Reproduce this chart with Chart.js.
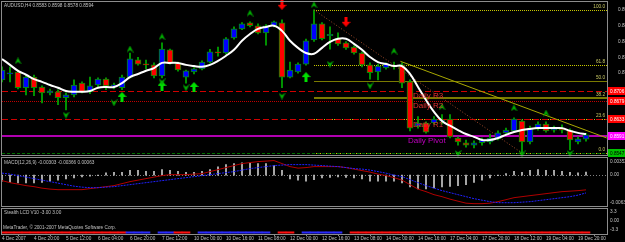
<!DOCTYPE html>
<html>
<head>
<meta charset="utf-8">
<script src="https://cdn.jsdelivr.net/npm/chart.js@4.4.1/dist/chart.umd.min.js"></script>
<style>
  html, body { margin: 0; padding: 0; background: #000; }
  #wrap { position: relative; width: 625px; height: 242px; background: #000; overflow: hidden; }
  #wrap canvas { position: absolute; left: 0; }
</style>
</head>
<body>
<div id="wrap">
  <canvas id="mainChart" width="625" height="157" style="top:0"></canvas>
  <canvas id="macdChart" width="625" height="52" style="top:156px"></canvas>
  <canvas id="lcdChart" width="625" height="35" style="top:207px"></canvas>
</div>
<script>
// AUDUSD H4 - price, MACD and Stealth LCD panels

const symbol = "AUDUSD,H4"
const tickLabels = ["4 Dec 2007", "4 Dec 20:00", "5 Dec 12:00", "6 Dec 04:00", "6 Dec 20:00", "7 Dec 12:00",
  "10 Dec 00:00", "10 Dec 16:00", "11 Dec 08:00", "12 Dec 00:00", "12 Dec 16:00", "13 Dec 08:00",
  "14 Dec 00:00", "14 Dec 16:00", "17 Dec 04:00", "17 Dec 20:00", "18 Dec 12:00", "19 Dec 04:00", "19 Dec 20:00"]
const barsPerTick = 4

const opens = [
  0.8733, 0.8748, 0.8753, 0.8713, 0.8740, 0.8715, 0.8700, 0.8703, 0.8688, 0.8695,
  0.8725, 0.8703, 0.8720, 0.8735, 0.8718, 0.8713, 0.8740, 0.8784, 0.8773, 0.8771,
  0.8743, 0.8809, 0.8776, 0.8740, 0.8753, 0.8761, 0.8778, 0.8804, 0.8801, 0.8839,
  0.8862, 0.8877, 0.8870, 0.8852, 0.8870, 0.8877, 0.8740, 0.8753, 0.8773, 0.8834,
  0.8875, 0.8845, 0.8839, 0.8827, 0.8816, 0.8801, 0.8771, 0.8753, 0.8763, 0.8768,
  0.8771, 0.8728, 0.8616, 0.8624, 0.8624, 0.8629, 0.8634, 0.8586, 0.8574, 0.8568,
  0.8574, 0.8576, 0.8584, 0.8599, 0.8604, 0.8629, 0.8576, 0.8611, 0.8621, 0.8606,
  0.8609, 0.8606, 0.8576, 0.8583]
const highs = [
  0.8766, 0.8766, 0.8758, 0.8743, 0.8745, 0.8718, 0.8710, 0.8708, 0.8700, 0.8733,
  0.8728, 0.8740, 0.8738, 0.8738, 0.8725, 0.8745, 0.8801, 0.8790, 0.8783, 0.8776,
  0.8827, 0.8811, 0.8778, 0.8758, 0.8764, 0.8781, 0.8810, 0.8816, 0.8840, 0.8867,
  0.8878, 0.8880, 0.8875, 0.8873, 0.8882, 0.8885, 0.8778, 0.8776, 0.8836, 0.8910,
  0.8878, 0.8867, 0.8852, 0.8830, 0.8819, 0.8804, 0.8776, 0.8773, 0.8776, 0.8778,
  0.8776, 0.8733, 0.8640, 0.8627, 0.8640, 0.8645, 0.8645, 0.8589, 0.8581, 0.8579,
  0.8586, 0.8596, 0.8604, 0.8611, 0.8637, 0.8632, 0.8616, 0.8627, 0.8627, 0.8616,
  0.8619, 0.8609, 0.8589, 0.8598]
const lows = [
  0.8728, 0.8728, 0.8710, 0.8695, 0.8693, 0.8675, 0.8695, 0.8670, 0.8657, 0.8690,
  0.8700, 0.8698, 0.8715, 0.8708, 0.8710, 0.8708, 0.8738, 0.8770, 0.8761, 0.8738,
  0.8738, 0.8773, 0.8755, 0.8725, 0.8748, 0.8758, 0.8775, 0.8793, 0.8798, 0.8836,
  0.8860, 0.8867, 0.8849, 0.8821, 0.8867, 0.8713, 0.8738, 0.8750, 0.8770, 0.8830,
  0.8834, 0.8811, 0.8820, 0.8810, 0.8798, 0.8766, 0.8735, 0.8733, 0.8760, 0.8760,
  0.8713, 0.8604, 0.8611, 0.8598, 0.8621, 0.8621, 0.8586, 0.8568, 0.8563, 0.8561,
  0.8568, 0.8571, 0.8581, 0.8596, 0.8601, 0.8548, 0.8571, 0.8606, 0.8601, 0.8601,
  0.8599, 0.8556, 0.8571, 0.8578]
const closes = [
  0.8758, 0.8750, 0.8713, 0.8740, 0.8713, 0.8700, 0.8705, 0.8688, 0.8695, 0.8720,
  0.8703, 0.8718, 0.8735, 0.8718, 0.8720, 0.8740, 0.8786, 0.8773, 0.8771, 0.8743,
  0.8811, 0.8776, 0.8758, 0.8756, 0.8761, 0.8778, 0.8804, 0.8801, 0.8837, 0.8862,
  0.8875, 0.8870, 0.8852, 0.8870, 0.8880, 0.8740, 0.8758, 0.8773, 0.8832, 0.8875,
  0.8837, 0.8848, 0.8824, 0.8814, 0.8801, 0.8771, 0.8751, 0.8768, 0.8773, 0.8766,
  0.8725, 0.8611, 0.8624, 0.8601, 0.8634, 0.8631, 0.8589, 0.8576, 0.8568, 0.8574,
  0.8581, 0.8586, 0.8599, 0.8606, 0.8634, 0.8576, 0.8611, 0.8621, 0.8604, 0.8611,
  0.8606, 0.8581, 0.8584, 0.8594]
const maValues = [
  0.8786, 0.8771, 0.8756, 0.8746, 0.8735, 0.8728, 0.8720, 0.8713, 0.8705, 0.8703,
  0.8703, 0.8705, 0.8713, 0.8715, 0.8715, 0.8725, 0.8740, 0.8748, 0.8756, 0.8763,
  0.8776, 0.8776, 0.8776, 0.8771, 0.8768, 0.8766, 0.8771, 0.8781, 0.8794, 0.8809,
  0.8832, 0.8849, 0.8862, 0.8867, 0.8870, 0.8857, 0.8832, 0.8814, 0.8801, 0.8799,
  0.8814, 0.8829, 0.8837, 0.8837, 0.8824, 0.8809, 0.8791, 0.8778, 0.8773, 0.8768,
  0.8768, 0.8748, 0.8715, 0.8682, 0.8652, 0.8629, 0.8617, 0.8606, 0.8596, 0.8589,
  0.8581, 0.8581, 0.8586, 0.8594, 0.8601, 0.8606, 0.8609, 0.8611, 0.8611, 0.8611,
  0.8611, 0.8604, 0.8599, 0.8596]

const priceTicks = [0.8910, 0.8870, 0.8830, 0.8790, 0.8750]
const pivotNames = ["Daily R3", "Daily R2", "Daily R1", "Daily Pivot"]
const pivotLevels = [0.8706, 0.8679, 0.8633, 0.8591]
const supportLevel = 0.8547
const pivotTextBar = 51

const fibHigh = 0.8910, fibHighBar = 39
const fibLow = 0.8548, fibLowBar = 65
const fibLevels = [100, 61.8, 50, 38.2, 23.6, 0]
const trendBars = [49.8, 75.6]
const trendPrices = [0.8780, 0.8586]

const fracUpBars = [2, 16, 20, 31, 39, 49, 55, 64, 68]
const fracUpPrices = [0.8781, 0.8811, 0.8842, 0.8902, 0.8923, 0.8806, 0.8665, 0.8662, 0.8649]
const fracDownBars = [8, 14, 20, 23, 35, 41, 46, 57, 65, 71]
const fracDownPrices = [0.8644, 0.8675, 0.8728, 0.8713, 0.8692, 0.8773, 0.8718, 0.8547, 0.8546, 0.8547]
const arrowUpBars = [15, 20, 24, 38]
const arrowUpPrices = [0.8690, 0.8718, 0.8715, 0.8740]
const arrowDownBars = [35, 43]
const arrowDownPrices = [0.8923, 0.8880]

const macdMain = [
  -0.00113, -0.00155, -0.00185, -0.00216, -0.00237, -0.00268, -0.00288, -0.00299, -0.00299, -0.00299,
  -0.00299, -0.00278, -0.00258, -0.00237, -0.00216, -0.00175, -0.00134, -0.00103, -0.00072, -0.00041,
  -0.00010, 0.00010, 0.00010, 0.00010, 0.00021, 0.00031, 0.00072, 0.00113, 0.00155, 0.00196,
  0.00237, 0.00258, 0.00278, 0.00288, 0.00299, 0.00237, 0.00175, 0.00144, 0.00155, 0.00175,
  0.00175, 0.00175, 0.00175, 0.00155, 0.00124, 0.00093, 0.00062, 0.00021, -0.00010, -0.00052,
  -0.00103, -0.00196, -0.00288, -0.00340, -0.00402, -0.00443, -0.00494, -0.00536, -0.00577, -0.00587,
  -0.00587, -0.00577, -0.00546, -0.00505, -0.00464, -0.00443, -0.00422, -0.00402, -0.00381, -0.00360,
  -0.00340, -0.00330, -0.00319, -0.00303]
const macdSignal = [
  0.00041, 0.00021, -0.00010, -0.00041, -0.00072, -0.00103, -0.00134, -0.00165, -0.00196, -0.00227,
  -0.00247, -0.00258, -0.00258, -0.00247, -0.00237, -0.00216, -0.00196, -0.00175, -0.00155, -0.00134,
  -0.00113, -0.00093, -0.00072, -0.00052, -0.00031, -0.00010, 0.00010, 0.00031, 0.00052, 0.00072,
  0.00103, 0.00134, 0.00155, 0.00175, 0.00196, 0.00206, 0.00216, 0.00216, 0.00216, 0.00206,
  0.00196, 0.00185, 0.00175, 0.00155, 0.00134, 0.00124, 0.00103, 0.00072, 0.00041, 0.00000,
  -0.00031, -0.00093, -0.00155, -0.00216, -0.00268, -0.00319, -0.00360, -0.00402, -0.00443, -0.00484,
  -0.00515, -0.00546, -0.00567, -0.00567, -0.00567, -0.00556, -0.00546, -0.00525, -0.00505, -0.00484,
  -0.00464, -0.00443, -0.00412, -0.00366]
const macdHist = [
  -0.00127, -0.00148, -0.00161, -0.00161, -0.00161, -0.00148, -0.00127, -0.00106, -0.00079, -0.00058,
  -0.00038, -0.00020, -0.00010, 0.00045, 0.00058, 0.00058, 0.00100, 0.00100, 0.00079, 0.00079,
  0.00113, 0.00100, 0.00079, 0.00058, 0.00058, 0.00079, 0.00113, 0.00168, 0.00216, 0.00237,
  0.00251, 0.00251, 0.00237, 0.00237, 0.00196, 0.00100, -0.00079, -0.00106, -0.00127, -0.00093,
  -0.00058, -0.00045, -0.00038, -0.00045, -0.00058, -0.00079, -0.00127, -0.00127, -0.00127, -0.00127,
  -0.00161, -0.00244, -0.00285, -0.00285, -0.00264, -0.00244, -0.00230, -0.00216, -0.00196, -0.00148,
  -0.00106, -0.00058, -0.00010, 0.00031, 0.00079, 0.00058, 0.00100, 0.00113, 0.00100, 0.00100,
  0.00079, 0.00058, 0.00045, 0.00063]
const macdTop = 0.00352, macdBottom = -0.00635

// Stealth LCD: 1 = blue, -1 = red, 0 = nothing
const lcdState = [
  -1, -1, -1, -1, -1, -1, -1, -1, -1, -1, -1, -1, -1, -1, -1, -1,
  1, 1, 1, 0, 1, 1, -1, -1, 0,
  1, 1, 1, 1, 1, 1, 1, 1, 1, 0, -1, -1, 0,
  1, 1, 1, 1, 1, 0,
  -1, -1, -1, -1, -1, -1, -1, -1, -1, -1, -1, -1, -1, -1, -1,
  -1, -1, -1, -1, -1, -1, -1, -1, -1, -1, -1, -1, -1, -1, -1]
const lcdBand = [-3.9, -4.4]
const lcdTicks = [3.3, 0, -3.3]

// ---------- styles ----------
Chart.defaults.animation = false
const FONT_FAMILY = "'Liberation Sans', Arial, sans-serif"
const SMALL_PX = 4.7
const SMALL = { family: FONT_FAMILY, size: SMALL_PX }
const SMALL_CSS = SMALL_PX + "px " + FONT_FAMILY
const TEXT_GRAY = "#c0c0c0"
const FRAME = "#8c8c8c"
const AXIS_W = 18
const X_MIN = 0, X_MAX = 75.625

const last = closes.length - 1
const xAxisHidden = { type: "linear", min: X_MIN, max: X_MAX, display: false, offset: false }
const pts = (xs, ys) => xs.map((x, k) => ({ x: x, y: ys[k] }))

// keep the plot area exactly where the layout puts it (no room for tick labels)
function fitRight(s) {
  s.width = AXIS_W
  s.paddingTop = 0
  s.paddingBottom = 0
}

function makeMarker(kind) {
  const c = document.createElement("canvas")
  const g = c.getContext("2d")
  g.beginPath()
  if (kind === "fracUp" || kind === "fracDown") {
    c.width = 7
    c.height = 7
    g.fillStyle = "#00b000"
    if (kind === "fracUp") {
      g.moveTo(3.5, 0); g.lineTo(7, 7); g.lineTo(3.5, 4.5); g.lineTo(0, 7)
    } else {
      g.moveTo(3.5, 7); g.lineTo(7, 0); g.lineTo(3.5, 2.5); g.lineTo(0, 0)
    }
  } else {
    c.width = 9
    c.height = 10
    g.fillStyle = kind === "arrowUp" ? "#00e000" : "#ff0000"
    if (kind === "arrowUp") {
      g.moveTo(4.5, 0); g.lineTo(9, 5); g.lineTo(6, 5); g.lineTo(6, 10); g.lineTo(3, 10); g.lineTo(3, 5); g.lineTo(0, 5)
    } else {
      g.moveTo(4.5, 10); g.lineTo(9, 5); g.lineTo(6, 5); g.lineTo(6, 0); g.lineTo(3, 0); g.lineTo(3, 5); g.lineTo(0, 5)
    }
  }
  g.closePath()
  g.fill()
  return c
}

function markerSet(xs, ys, kind) {
  return {
    type: "line", data: pts(xs, ys), showLine: false, pointStyle: makeMarker(kind),
    pointRadius: 4, clip: 6, order: 1
  }
}

const frame = {
  id: "frame",
  afterDraw(chart) {
    const { ctx, chartArea: a } = chart
    ctx.save()
    ctx.strokeStyle = FRAME
    ctx.lineWidth = 1
    ctx.strokeRect(a.left - 0.5, a.top - 0.5, a.right - a.left + 1, a.bottom - a.top + 1)
    ctx.restore()
  }
}

function hLine(chart, value, fromBar, color, width, dash) {
  const { ctx, chartArea: a, scales: { x, y } } = chart
  let py = y.getPixelForValue(value)
  py = width % 2 ? Math.round(py) + 0.5 : Math.round(py)
  const px = fromBar === null ? a.left : x.getPixelForValue(fromBar)
  ctx.save()
  ctx.strokeStyle = color
  ctx.lineWidth = width
  ctx.setLineDash(dash)
  ctx.beginPath()
  ctx.moveTo(px, py)
  ctx.lineTo(a.right, py)
  ctx.stroke()
  ctx.restore()
}

const fibPrice = (lv) => fibLow + (fibHigh - fibLow) * lv / 100

const mainDecor = {
  id: "mainDecor",
  beforeDatasetsDraw(chart) {
    fibLevels.forEach((lv) => {
      if (lv === 50) hLine(chart, fibPrice(lv), fibHighBar, "#7a7a00", 1, [])
      else if (lv === 38.2) hLine(chart, fibPrice(lv), fibHighBar, "#7a7a00", 2, [])
      else hLine(chart, fibPrice(lv), fibHighBar, "#c8c800", 1, [1, 1])
    })
    hLine(chart, pivotLevels[0], null, "#d00000", 1, [6, 3])
    hLine(chart, pivotLevels[1], null, "#c00000", 1, [1, 1])
    hLine(chart, pivotLevels[2], null, "#d00000", 1, [6, 3])
    hLine(chart, closes[last], null, "#808080", 1, [])
    hLine(chart, pivotLevels[3], null, "#b000b0", 2, [])
    hLine(chart, supportLevel, null, "#007000", 1, [3, 2])
  },
  afterDraw(chart) {
    const { ctx, chartArea: a, scales: { x, y } } = chart
    ctx.save()
    // title
    ctx.font = SMALL_CSS
    ctx.fillStyle = TEXT_GRAY
    ctx.textBaseline = "top"
    ctx.textAlign = "left"
    const ohlc = [opens[last], highs[last], lows[last], closes[last]].map((v) => v.toFixed(4)).join(" ")
    ctx.fillText(symbol + " " + ohlc, 4, 3)

    // fibonacci labels
    ctx.fillStyle = "#c8c864"
    ctx.textAlign = "right"
    ctx.textBaseline = "bottom"
    fibLevels.forEach((lv) => {
      ctx.fillText(lv.toFixed(1), a.right - 2, y.getPixelForValue(fibPrice(lv)) - 1)
    })

    // pivot names
    ctx.font = "8px " + FONT_FAMILY
    ctx.textAlign = "left"
    ctx.textBaseline = "top"
    pivotNames.forEach((name, k) => {
      ctx.fillStyle = k === 3 ? "#c000c0" : "#e03030"
      const px = x.getPixelForValue(pivotTextBar) + (k === 3 ? -2 : 3)
      ctx.fillText(name, px, y.getPixelForValue(pivotLevels[k]) + 1)
    })

    // price boxes on the right axis
    ctx.font = SMALL_CSS
    ctx.textBaseline = "middle"
    const box = (value, bg, fg) => {
      const py = Math.round(y.getPixelForValue(value))
      ctx.fillStyle = bg
      ctx.fillRect(a.right + 1, py - 4, AXIS_W - 1, 8)
      ctx.fillStyle = fg
      ctx.fillText(value.toFixed(4), a.right + 3, py + 0.5)
    }
    box(pivotLevels[0], "#ff0000", "#ffffff")
    box(pivotLevels[1], "#ff0000", "#ffffff")
    box(pivotLevels[2], "#ff0000", "#ffffff")
    box(pivotLevels[3], "#ff00ff", "#ffffff")
    box(supportLevel, "#00c000", "#000000")
    ctx.restore()
  }
}

// ---------- main price chart ----------
const bodyColors = closes.map((c, i) => (c >= opens[i] ? "#0000ff" : "#ff0000"))
const barIdx = closes.map((c, i) => i)

new Chart(document.getElementById("mainChart"), {
  type: "bar",
  data: {
    datasets: [
      {
        label: "wick", data: barIdx.map((i) => ({ x: i, y: [lows[i], highs[i]] })),
        backgroundColor: "#00b000", barThickness: 1, grouped: false, order: 6
      },
      {
        label: "body", data: barIdx.map((i) => ({ x: i, y: [opens[i], closes[i]] })),
        backgroundColor: bodyColors, borderColor: "#009000", borderWidth: 1, borderSkipped: false,
        barThickness: 6, minBarLength: 1, grouped: false, order: 5
      },
      {
        type: "line", label: "trend", data: pts(trendBars, trendPrices),
        borderColor: "#a8a800", borderWidth: 1, pointRadius: 0, order: 4
      },
      {
        type: "line", label: "fib", data: pts([fibHighBar, fibLowBar], [fibHigh, fibLow]),
        borderColor: "#a04a2a", borderWidth: 1, borderDash: [1, 2], pointRadius: 0, order: 4
      },
      {
        type: "line", label: "MA", data: pts(barIdx, maValues),
        borderColor: "#ffffff", borderWidth: 2, pointRadius: 0, tension: 0.4, order: 3
      },
      markerSet(fracUpBars, fracUpPrices, "fracUp"),
      markerSet(fracDownBars, fracDownPrices, "fracDown"),
      markerSet(arrowUpBars, arrowUpPrices, "arrowUp"),
      markerSet(arrowDownBars, arrowDownPrices, "arrowDown")
    ]
  },
  options: {
    responsive: false,
    layout: { autoPadding: false, padding: { left: 2, top: 2, right: 0, bottom: 2 } },
    plugins: { legend: { display: false }, tooltip: { enabled: false } },
    scales: {
      x: xAxisHidden,
      y: {
        position: "right", min: 0.8543, max: 0.8930,
        grid: { display: false },
        border: { display: true, color: FRAME },
        afterBuildTicks: (s) => { s.ticks = priceTicks.map((v) => ({ value: v })) },
        afterFit: fitRight,
        ticks: { color: TEXT_GRAY, font: SMALL, padding: 3, callback: (v) => Number(v).toFixed(4) }
      }
    }
  },
  plugins: [mainDecor, frame]
})

// ---------- MACD ----------
const macdDecor = {
  id: "macdDecor",
  beforeDatasetsDraw(chart) {
    hLine(chart, 0, null, "#808080", 1, [1, 2])
  },
  afterDraw(chart) {
    const { ctx, chartArea: a, scales: { y } } = chart
    ctx.save()
    ctx.font = SMALL_CSS
    ctx.fillStyle = TEXT_GRAY
    ctx.textAlign = "left"
    ctx.textBaseline = "middle"
    const vals = [macdMain[last], macdSignal[last], macdHist[last]].map((v) => v.toFixed(5)).join(" ")
    ctx.fillText("MACD(12,26,9) " + vals, 4, 7)
    ctx.fillText(macdTop.toFixed(5), a.right + 3, y.getPixelForValue(macdTop) + 4)
    ctx.fillText("0.00", a.right + 3, y.getPixelForValue(0))
    ctx.fillText(macdBottom.toFixed(5), a.right + 3, y.getPixelForValue(macdBottom) - 3)
    ctx.restore()
  }
}

new Chart(document.getElementById("macdChart"), {
  type: "bar",
  data: {
    datasets: [
      {
        label: "hist", data: pts(barIdx, macdHist),
        backgroundColor: "#c8c8c8", barThickness: 1, grouped: false, order: 3
      },
      {
        type: "line", label: "main", data: pts(barIdx, macdMain),
        borderColor: "#b00000", borderWidth: 1, pointRadius: 0, order: 2
      },
      {
        type: "line", label: "signal", data: pts(barIdx, macdSignal),
        borderColor: "#2020ff", borderWidth: 1, borderDash: [2, 1], pointRadius: 0, order: 1
      }
    ]
  },
  options: {
    responsive: false,
    layout: { autoPadding: false, padding: { left: 2, top: 2, right: 0, bottom: 2 } },
    plugins: { legend: { display: false }, tooltip: { enabled: false } },
    scales: {
      x: xAxisHidden,
      y: {
        position: "right", min: macdBottom, max: macdTop,
        grid: { display: false },
        border: { display: true, color: FRAME },
        afterFit: fitRight,
        ticks: { display: false }
      }
    }
  },
  plugins: [macdDecor, frame]
})

// ---------- Stealth LCD + time axis ----------
const lcdDecor = {
  id: "lcdDecor",
  afterDraw(chart) {
    const { ctx, chartArea: a, scales: { y } } = chart
    ctx.save()
    ctx.font = SMALL_CSS
    ctx.fillStyle = TEXT_GRAY
    ctx.textAlign = "left"
    ctx.textBaseline = "middle"
    ctx.fillText("Stealth LCD V10 -3.00 3.00", 4, 6)
    ctx.fillText("MetaTrader, \u00a9 2001-2007 MetaQuotes Software Corp.", 3, 21)
    lcdTicks.forEach((v) => {
      ctx.fillText(v === 0 ? "0.00" : v.toFixed(1), a.right + 3, y.getPixelForValue(v))
    })
    ctx.restore()
  }
}

new Chart(document.getElementById("lcdChart"), {
  type: "bar",
  data: {
    datasets: [
      {
        label: "lcd",
        data: barIdx.map((i) => ({ x: i, y: lcdState[i] === 0 ? null : lcdBand })),
        backgroundColor: lcdState.map((s) => (s > 0 ? "#2a2aff" : "#ff1010")),
        barThickness: 8, grouped: false
      }
    ]
  },
  options: {
    responsive: false,
    layout: { autoPadding: false, padding: { left: 2, top: 2, right: 0, bottom: 0 } },
    plugins: { legend: { display: false }, tooltip: { enabled: false } },
    scales: {
      x: {
        type: "linear", min: X_MIN, max: X_MAX, offset: false,
        grid: { display: true, drawOnChartArea: false, drawTicks: true, tickLength: 2, color: FRAME },
        border: { display: true, color: FRAME },
        afterBuildTicks: (s) => { s.ticks = tickLabels.map((t, k) => ({ value: k * barsPerTick })) },
        afterFit: (s) => { s.height = 8; s.paddingLeft = 0; s.paddingRight = 0 },
        ticks: {
          color: TEXT_GRAY, font: SMALL, padding: 0, align: "start", autoSkip: false, maxRotation: 0,
          callback: (v) => tickLabels[Math.round(v / barsPerTick)]
        }
      },
      y: {
        position: "right", min: -4.7, max: 4.4,
        grid: { display: false },
        border: { display: true, color: FRAME },
        afterFit: fitRight,
        ticks: { display: false }
      }
    }
  },
  plugins: [lcdDecor, frame]
})
</script>
</body>
</html>
